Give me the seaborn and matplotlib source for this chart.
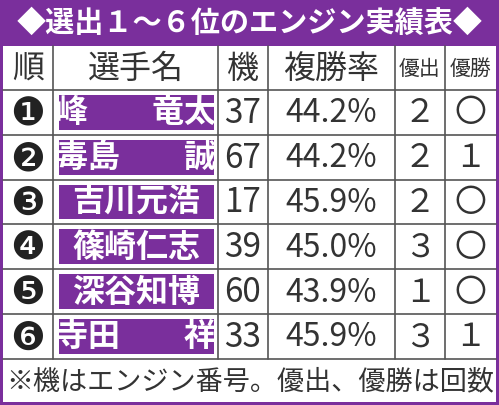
import matplotlib
matplotlib.use("Agg")
import matplotlib.pyplot as plt
import seaborn as sns
from matplotlib.patches import Rectangle

sns.set_theme(style="white")
plt.rcParams['font.family'] = ['Noto Sans CJK JP', 'DejaVu Sans']

TITLE = '◆選出１～６位のエンジン実績表◆'
HEADERS = ['順', '選手名', '機', '複勝率', '優出', '優勝']
ranks = ['❶', '❷', '❸', '❹', '❺', '❻']
names = ['峰　　竜太', '毒島　　誠', '吉川元浩', '篠崎仁志', '深谷知博', '寺田　　祥']
machines = ['37', '67', '17', '39', '60', '33']
rates = ['44.2%', '44.2%', '45.9%', '45.0%', '43.9%', '45.9%']
finals = ['２', '２', '２', '３', '１', '３']
wins = ['〇', '１', '〇', '〇', '〇', '１']
NOTE = '※機はエンジン番号。優出、優勝は回数'

PURPLE = '#7a2f9c'
TXT = '#333333'
col_x = [3, 53, 218, 268, 395, 445, 496]
top, header_h, row_h = 47, 44, 44.8

fig = plt.figure(figsize=(4.99, 4.06), dpi=100)
ax = fig.add_axes([0, 0, 1, 1])
ax.set_xlim(0, 499)
ax.set_ylim(406, 0)
ax.axis('off')
fig.patch.set_facecolor(PURPLE)

ax.text(249.5, 23, TITLE, color='white', fontsize=21, fontweight='bold',
        ha='center', va='center')

bottom = top + header_h + row_h * len(names)
ax.add_patch(Rectangle((col_x[0], top), col_x[-1] - col_x[0], 403 - top,
                       facecolor='white', edgecolor='none'))

# grid lines
line_kw = dict(color='#555555', lw=1.2)
for y in [top + header_h + row_h * i for i in range(len(names) + 1)]:
    ax.plot([col_x[0], col_x[-1]], [y, y], **line_kw)
for x in col_x[1:-1]:
    ax.plot([x, x], [top, bottom], **line_kw)

cx = [(col_x[i] + col_x[i + 1]) / 2 for i in range(len(col_x) - 1)]
hy = top + header_h / 2
for i, h in enumerate(HEADERS):
    fs = 15 if len(h) == 2 else 23
    ax.text(cx[i], hy, h, fontsize=fs, color=TXT, ha='center', va='center')

for r in range(len(names)):
    y0 = top + header_h + row_h * r
    yc = y0 + row_h / 2
    ax.text(cx[0], yc + 1, ranks[r], fontsize=28, color='#222222',
            ha='center', va='center', family=['DejaVu Sans'])
    ax.add_patch(Rectangle((col_x[1] + 6, y0 + 5), col_x[2] - col_x[1] - 10, row_h - 10,
                           facecolor=PURPLE, edgecolor='none'))
    ax.text(cx[1] + 1, yc, names[r], fontsize=23, color='white', fontweight='bold',
            ha='center', va='center')
    ax.text(cx[2], yc, machines[r], fontsize=24, color=TXT, ha='center', va='center')
    ax.text(cx[3], yc, rates[r], fontsize=23, color=TXT, ha='center', va='center')
    ax.text(cx[4], yc, finals[r], fontsize=23, color=TXT, ha='center', va='center')
    ax.text(cx[5], yc, wins[r], fontsize=23, color=TXT, ha='center', va='center')

ax.text(col_x[0] + 3, (bottom + 403) / 2, NOTE, fontsize=19.5, color=TXT,
        ha='left', va='center')

fig.savefig('out.png', dpi=100, facecolor=PURPLE)
